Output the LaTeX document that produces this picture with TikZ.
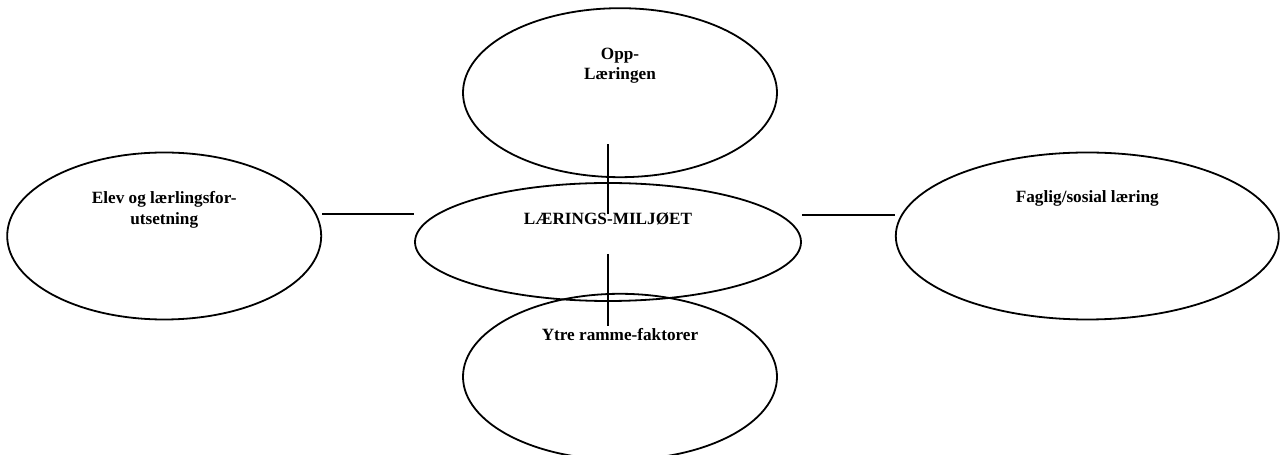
\documentclass[tikz,border=0pt]{standalone}
\usepackage{fontspec}
\setmainfont{Liberation Serif}
\usepackage{tikz}
\usetikzlibrary{shapes.geometric, positioning}

\tikzset{
  ring/.style={ellipse, draw=black, line width=1.8pt},
  caption/.style={font=\bfseries\fontsize{17.2}{20.5}\selectfont, align=center, anchor=base, inner sep=0pt},
  link/.style={draw=black, line width=1.8pt}
}

\begin{document}
\begin{tikzpicture}
\useasboundingbox (0,0) rectangle (1280pt,455pt);
% Ellipses around the learning environment
\node (mid) [ring, minimum width=386pt, minimum height=118pt] at (608pt,213pt) {};
\node (top) [ring, minimum width=314pt, minimum height=169pt, above=4pt of mid, xshift=12pt] {};
\node (bottom) [ring, minimum width=314pt, minimum height=166pt, below=-9pt of mid, xshift=12pt] {};
\node (left) [ring, minimum width=314pt, minimum height=167pt, left=92pt of mid, yshift=6pt] {};
\node (right) [ring, minimum width=383pt, minimum height=167pt, right=93pt of mid, yshift=6pt] {};

% Texts near the top of each ellipse
\node (midtext) [caption] at ([yshift=-42pt]mid.north) {LÆRINGS-MILJØET};
\node (toptext) [caption] at ([yshift=-72.5pt]top.north) {Opp-\\Læringen};
\node (bottomtext) [caption] at ([yshift=-48pt]bottom.north) {Ytre ramme-faktorer};
\node (lefttext) [caption] at ([yshift=-72.5pt]left.north) {Elev og lærlingsfor-\\utsetning};
\node (righttext) [caption] at ([yshift=-51pt]right.north) {Faglig/sosial læring};

% Connecting lines
\draw [link] ([yshift=22pt]left.east) -- ([yshift=28pt]mid.west);
\draw [link] ([yshift=27pt]mid.east) -- ([yshift=21pt]right.west);
\draw [link] (top.south -| mid.center) ++(0,34pt) -- ++(0,-70pt);
\draw [link] (bottom.north -| mid.center) ++(0,39pt) -- ++(0,-72pt);
\end{tikzpicture}
\end{document}
